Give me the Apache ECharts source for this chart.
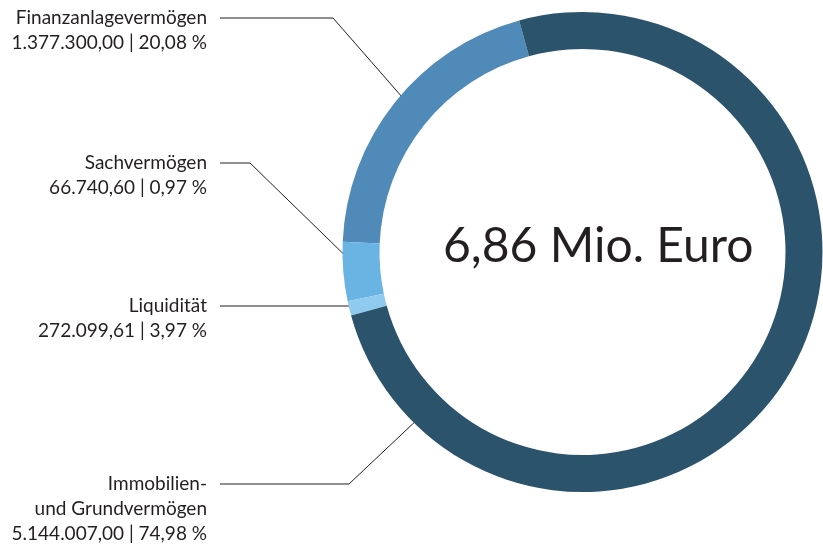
<!DOCTYPE html>
<html>
<head>
<meta charset="utf-8">
<script src="https://cdn.jsdelivr.net/npm/echarts@6/dist/echarts.min.js"></script>
<style>
html,body{margin:0;padding:0;background:#fff;}
#chart{width:823px;height:546px;}
</style>
</head>
<body>
<div id="chart"></div>
<script>
// ---- data (counter-clockwise order as drawn) ----
const categories = ['Finanzanlagevermögen', 'Liquidität', 'Sachvermögen', 'Immobilien-\nund Grundvermögen'];
const values = [1377300.00, 272099.61, 66740.60, 5144007.00];
const colors = ['#508ab8', '#6ab4e4', '#8fcbef', '#2c536c'];
const centerUnit = 'Mio. Euro';

// ---- layout ----
const CX = 582.5, CY = 252, R_IN = 203, R_OUT = 240;
const START_ANGLE = 105.3;              // degrees (ECharts convention)
const LABEL_RIGHT = 207, LINE_LEFT = 220, LINE_H = 25;
const labelFirstLineY = [18, 306, 163, 484];   // centre of first text line
const lineBendX = [333, 352, 250, 349];
const anchorAngle = [49.4, 103.2, 91.2, 135.4]; // ccw from top
const ANCHOR_R = 236;

function fmtDE(v, d) {
  const parts = v.toFixed(d).split('.');
  const intPart = parts[0].replace(/\B(?=(\d{3})+(?!\d))/g, '.');
  return d > 0 ? intPart + ',' + parts[1] : intPart;
}
const total = values.reduce((a, b) => a + b, 0);

const chart = echarts.init(document.getElementById('chart'), null, {renderer: 'canvas'});
chart.setOption({
  backgroundColor: '#ffffff',
  animation: false,
  textStyle: {fontFamily: 'Lato'},
  graphic: [{
    type: 'text',
    left: 443, top: 223,
    style: {
      text: fmtDE(total / 1e6, 2) + ' ' + centerUnit,
      fontFamily: 'Lato', fontSize: 48, fill: '#231f20'
    }
  }],
  series: [{
    type: 'pie',
    center: [CX, CY],
    radius: [R_IN, R_OUT],
    startAngle: START_ANGLE,
    clockwise: false,
    avoidLabelOverlap: false,
    silent: true,
    itemStyle: {borderWidth: 0},
    data: categories.map((n, i) => ({name: n, value: values[i], itemStyle: {color: colors[i]}})),
    label: {
      show: true,
      position: 'outside',
      fontFamily: 'Lato',
      fontSize: 19,
      lineHeight: LINE_H,
      color: '#231f20',
      align: 'right',
      formatter: p => p.name + '\n' + fmtDE(p.value, 2) + ' | ' + fmtDE(p.value / total * 100, 2) + ' %'
    },
    labelLine: {show: true, lineStyle: {color: '#231f20', width: 1}},
    labelLayout: function (p) {
      const i = p.dataIndex;
      const yc = labelFirstLineY[i];
      const a = anchorAngle[i] * Math.PI / 180;
      const ax = CX - ANCHOR_R * Math.sin(a);
      const ay = CY - ANCHOR_R * Math.cos(a);
      return {
        x: LABEL_RIGHT,
        y: yc - LINE_H / 2,
        align: 'right',
        verticalAlign: 'top',
        labelLinePoints: [[LINE_LEFT, yc], [lineBendX[i], yc], [ax, ay]]
      };
    }
  }]
});
</script>
</body>
</html>
